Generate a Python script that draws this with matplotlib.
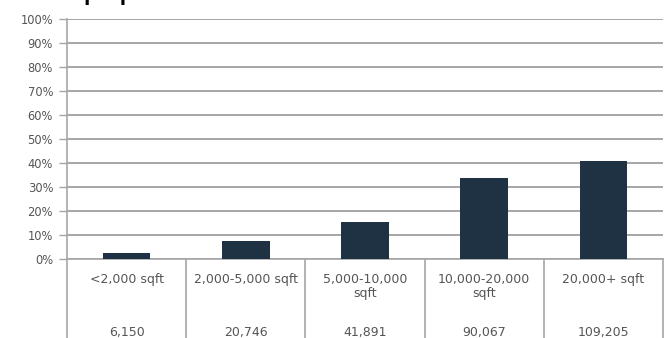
import matplotlib
matplotlib.use("Agg")
import matplotlib.pyplot as plt
from matplotlib.ticker import MultipleLocator, PercentFormatter

# Data
categories = ["<2,000 sqft", "2,000-5,000 sqft", "5,000-10,000\nsqft", "10,000-20,000\nsqft", "20,000+ sqft"]
share_pct = [2.3, 7.7, 15.6, 33.6, 40.7]
counts = ["6,150", "20,746", "41,891", "90,067", "109,205"]

TEXT = "#555555"
GRID = "#a6a6a6"
BAR = "#1f3244"

plt.rcParams["font.family"] = ["DejaVu Sans"]

fig = plt.figure(figsize=(6.65, 3.38), dpi=100)
ax = fig.add_axes([67 / 665, 1 - 259 / 338, 596 / 665, 240 / 338])

x = list(range(len(categories)))
ax.bar(x, share_pct, width=0.4, color=BAR, zorder=3)

ax.set_xlim(-0.5, len(categories) - 0.5)
ax.set_ylim(0, 100)
ax.yaxis.set_major_locator(MultipleLocator(10))
ax.yaxis.set_major_formatter(PercentFormatter(decimals=0))
ax.grid(axis="y", color=GRID, linewidth=1.4, zorder=0)
ax.set_xticks([])
ax.tick_params(axis="y", length=6, width=1, color=GRID, labelsize=8.3, labelcolor=TEXT, pad=4)

for side in ["top", "right"]:
    ax.spines[side].set_visible(False)
ax.spines["left"].set_color(GRID)
ax.spines["bottom"].set_color(GRID)
ax.spines["left"].set_linewidth(1.2)
ax.spines["bottom"].set_linewidth(1.2)

# data table below the plot
trans = ax.get_xaxis_transform()
for b in [i - 0.5 for i in range(len(categories) + 1)]:
    ax.plot([b, b], [0, -0.4], transform=trans, color=GRID, linewidth=1.2, clip_on=False)

for i, (cat, cnt) in enumerate(zip(categories, counts)):
    ax.text(i, -0.058, cat, transform=trans, ha="center", va="top", fontsize=9,
            color=TEXT, linespacing=1.15)
    ax.text(i, -0.305, cnt, transform=trans, ha="center", va="center", fontsize=9, color=TEXT)

# title, cut off by the top edge in the original
fig.text(83 / 665, 0.999, "properties", ha="left", va="baseline", fontsize=16.5,
         fontweight="bold", color="black", family=["Liberation Sans", "DejaVu Sans"])

fig.savefig("out.png", dpi=100)
